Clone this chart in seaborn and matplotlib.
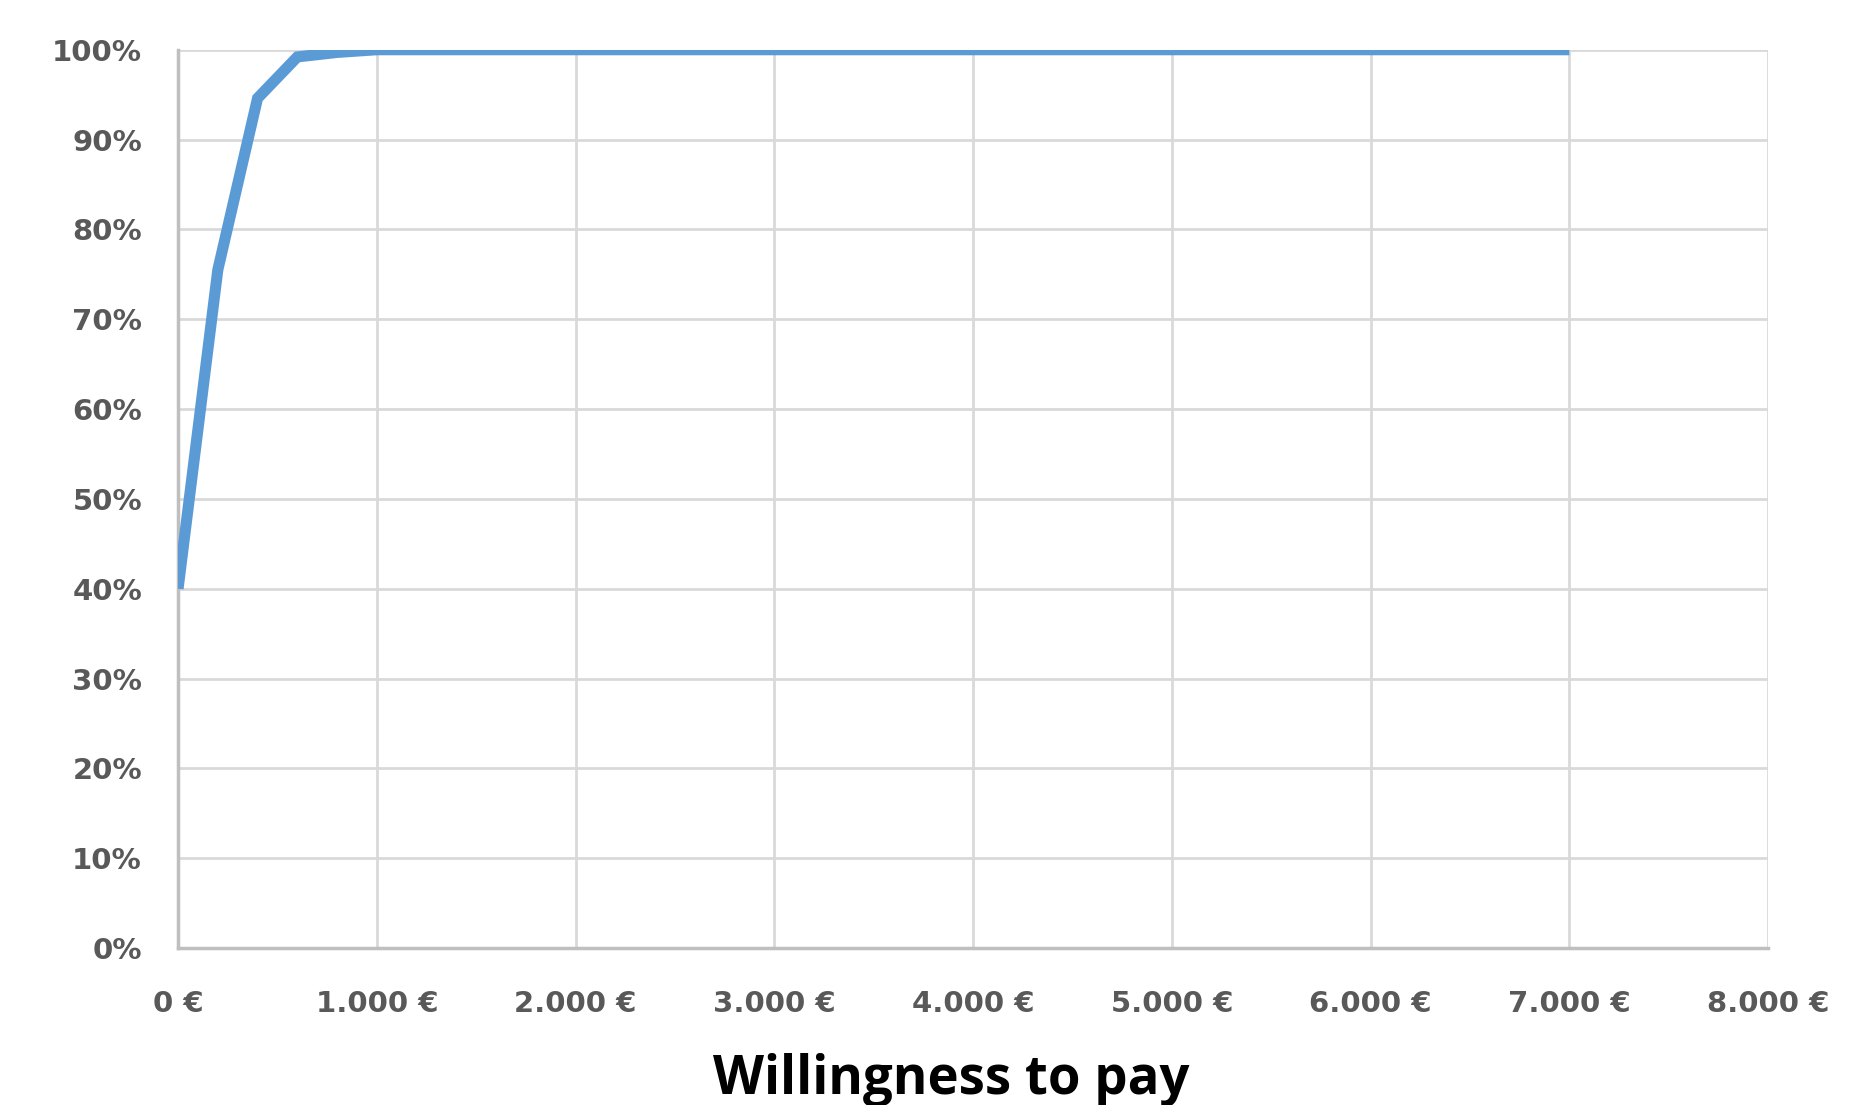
import matplotlib
matplotlib.use("Agg")
import matplotlib.pyplot as plt
import seaborn as sns
import pandas as pd

# Data
wtp_eur = [0, 200, 400, 600, 800, 1000, 2000, 3000, 4000, 5000, 6000, 7000]
cum_share = [0.40, 0.755, 0.946, 0.992, 0.997, 1.0, 1.0, 1.0, 1.0, 1.0, 1.0, 1.0]
x_ticks = [0, 1000, 2000, 3000, 4000, 5000, 6000, 7000, 8000]
x_tick_labels = ["0 €", "1.000 €", "2.000 €", "3.000 €", "4.000 €", "5.000 €", "6.000 €", "7.000 €", "8.000 €"]
y_ticks = [0, 0.1, 0.2, 0.3, 0.4, 0.5, 0.6, 0.7, 0.8, 0.9, 1.0]
y_tick_labels = ["0%", "10%", "20%", "30%", "40%", "50%", "60%", "70%", "80%", "90%", "100%"]
x_label = "Willingness to pay"

df = pd.DataFrame({"wtp": wtp_eur, "share": cum_share})

sns.set_theme(style="white")
plt.rcParams["font.family"] = ["DejaVu Sans"]

fig = plt.figure(figsize=(18.51, 11.05), dpi=100)
ax = fig.add_axes([0.0962, 0.142, 0.8590, 0.813])

sns.lineplot(data=df, x="wtp", y="share", ax=ax, color="#5b9bd5", linewidth=8,
             solid_capstyle="butt", solid_joinstyle="miter", zorder=3)

ax.set_xlim(0, 8000)
ax.set_ylim(0, 1.0)
ax.set_xticks(x_ticks)
ax.set_xticklabels(x_tick_labels)
ax.set_yticks(y_ticks)
ax.set_yticklabels(y_tick_labels)
ax.grid(True, color="#d9d9d9", linewidth=2)
ax.set_axisbelow(True)
for s in ["top", "right"]:
    ax.spines[s].set_visible(False)
ax.spines["left"].set_color("#bfbfbf")
ax.spines["left"].set_linewidth(2.5)
ax.spines["bottom"].set_color("#bfbfbf")
ax.spines["bottom"].set_linewidth(2.5)
ax.tick_params(axis="both", length=0, labelsize=21, labelcolor="#595959")
ax.tick_params(axis="x", pad=30)
ax.tick_params(axis="y", pad=26)
for lbl in ax.get_xticklabels() + ax.get_yticklabels():
    lbl.set_fontweight("bold")

ax.set_xlabel(x_label, fontsize=38, fontweight="bold", color="black",
              family=["Open Sans", "DejaVu Sans"])
ax.xaxis.set_label_coords(0.486, -0.147)
ax.xaxis.label.set_verticalalignment("center")
ax.set_ylabel("")

fig.savefig("out.png", dpi=100)
